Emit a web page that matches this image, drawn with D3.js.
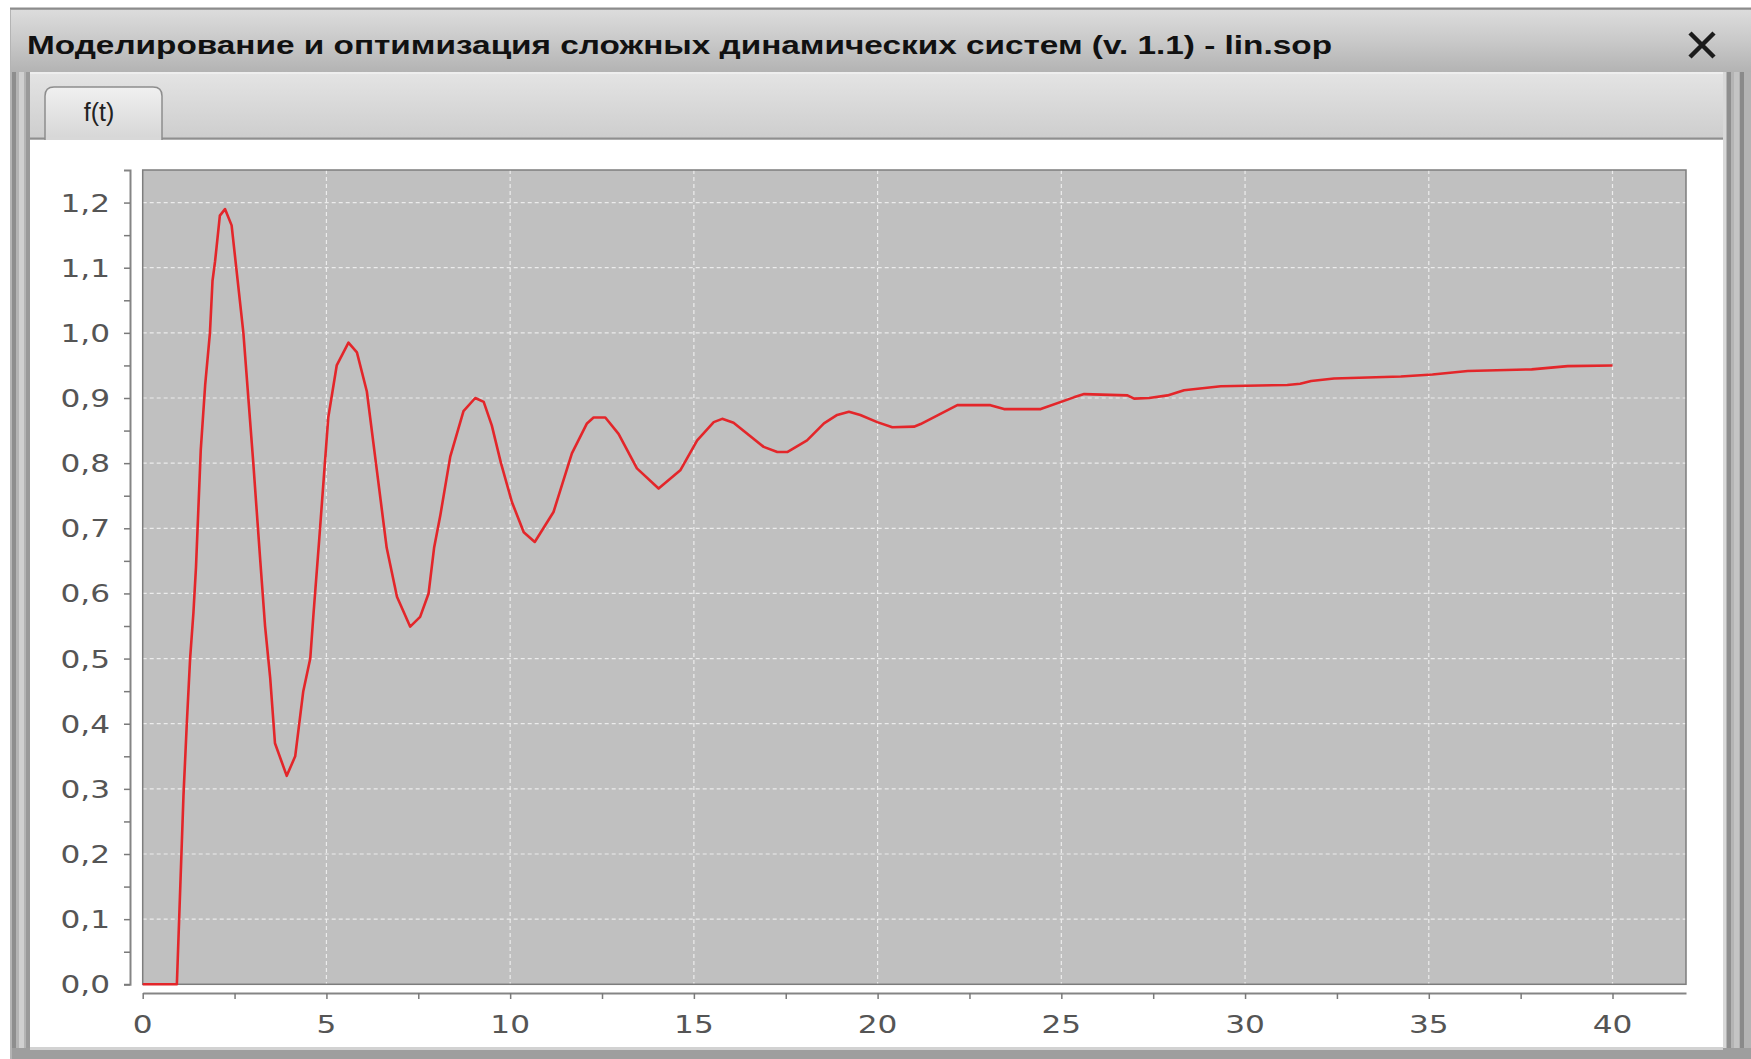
<!DOCTYPE html>
<html>
<head>
<meta charset="utf-8">
<script src="https://cdn.jsdelivr.net/npm/d3@7"></script>
<style>
  html, body { margin: 0; padding: 0; background: #ffffff; }
  svg { display: block; }
</style>
</head>
<body>
<svg id="win" width="1751" height="1059"></svg>
<script>
// Window caption and tab label
const windowTitle = "Моделирование и оптимизация сложных динамических систем (v. 1.1) - lin.sop";
const tabLabel = "f(t)";

// Simulated response f(t): time samples and values
const tValues = [0, 0.93, 1.11, 1.20, 1.29, 1.38, 1.45, 1.58, 1.70, 1.83, 1.90, 1.97, 2.10, 2.24, 2.42,
  2.74, 3.01, 3.20, 3.33, 3.47, 3.60, 3.92, 4.15, 4.37, 4.56, 4.65, 4.80, 5.05, 5.28, 5.60, 5.83,
  6.10, 6.37, 6.64, 6.92, 7.28, 7.55, 7.78, 7.93, 8.10, 8.37, 8.73, 9.05, 9.28, 9.50, 9.75, 10.05,
  10.37, 10.67, 11.18, 11.68, 12.09, 12.27, 12.59, 12.95, 13.45, 14.04, 14.63, 15.09, 15.54, 15.77,
  16.08, 16.90, 17.27, 17.54, 18.08, 18.54, 18.90, 19.22, 19.53, 19.99, 20.40, 20.99, 21.17, 22.17,
  23.07, 23.44, 24.44, 25.34, 25.62, 26.80, 26.98, 27.39, 27.89, 28.34, 29.34, 31.15, 31.50, 31.80,
  32.42, 34.24, 35.10, 36.06, 37.80, 38.78, 40.00];
const fValues = [0, 0, 0.29, 0.40, 0.50, 0.57, 0.64, 0.82, 0.92, 1.00, 1.08, 1.11, 1.18, 1.19, 1.165,
  1.00, 0.80, 0.65, 0.55, 0.47, 0.37, 0.32, 0.35, 0.45, 0.50, 0.57, 0.68, 0.87, 0.95, 0.985, 0.97,
  0.91, 0.79, 0.67, 0.595, 0.549, 0.564, 0.60, 0.67, 0.72, 0.81, 0.88, 0.90, 0.894, 0.858, 0.80, 0.74,
  0.694, 0.679, 0.725, 0.815, 0.861, 0.870, 0.870, 0.845, 0.792, 0.761, 0.789, 0.835, 0.863, 0.868,
  0.862, 0.825, 0.817, 0.817, 0.835, 0.861, 0.874, 0.879, 0.874, 0.863, 0.855, 0.856, 0.860, 0.889,
  0.889, 0.883, 0.883, 0.901, 0.906, 0.904, 0.899, 0.900, 0.904, 0.912, 0.918, 0.920, 0.922, 0.926,
  0.930, 0.933, 0.936, 0.9415, 0.944, 0.949, 0.950];

// Axis ticks
const xTickValues = d3.range(0, 40.01, 2.5);
const xLabelValues = [0, 5, 10, 15, 20, 25, 30, 35, 40];
const yTickValues = d3.range(0, 1.2001, 0.05).map(v => +v.toFixed(2));
const yLabelValues = [0, 0.1, 0.2, 0.3, 0.4, 0.5, 0.6, 0.7, 0.8, 0.9, 1.0, 1.1, 1.2];

const svg = d3.select("#win");
const defs = svg.append("defs");

function vGrad(id, stops) {
  const g = defs.append("linearGradient").attr("id", id)
    .attr("x1", 0).attr("y1", 0).attr("x2", 0).attr("y2", 1);
  stops.forEach(([o, c]) => g.append("stop").attr("offset", o).attr("stop-color", c));
}
vGrad("titleGrad", [[0, "#dcdcdc"], [0.5, "#c9c9c9"], [1, "#b3b3b3"]]);
vGrad("stripGrad", [[0, "#e4e4e4"], [1, "#cdcdcd"]]);
vGrad("tabGrad", [[0, "#f0f0f0"], [1, "#d6d6d6"]]);

// ---- window frame ----
svg.append("rect").attr("x", 10).attr("y", 8).attr("width", 1741).attr("height", 1051)
  .attr("fill", "#b4b4b4");
svg.append("line").attr("x1", 10).attr("x2", 1751).attr("y1", 8.5).attr("y2", 8.5)
  .attr("stroke", "#8c8c8c").attr("stroke-width", 2);
svg.append("rect").attr("x", 11).attr("y", 10).attr("width", 1740).attr("height", 62)
  .attr("fill", "url(#titleGrad)");

// side border lines
[[12, "#8e8e8e", 4], [19, "#d0d0d0", 5], [26, "#9a9a9a", 4]].forEach(([x, c, w]) => {
  svg.append("rect").attr("x", x).attr("y", 72).attr("width", w).attr("height", 987).attr("fill", c);
});
[[1723, "#d8d8d8", 3], [1727, "#8e8e8e", 4], [1734, "#c4c4c4", 5], [1740, "#8a8a8a", 4]].forEach(([x, c, w]) => {
  svg.append("rect").attr("x", x).attr("y", 72).attr("width", w).attr("height", 987).attr("fill", c);
});
svg.append("rect").attr("x", 12).attr("y", 1048).attr("width", 1739).attr("height", 11).attr("fill", "#9e9e9e");
svg.append("rect").attr("x", 30).attr("y", 1047).attr("width", 1693).attr("height", 3).attr("fill", "#d2d2d2");

// title text
svg.append("text").attr("x", 27).attr("y", 54)
  .attr("font-family", "'Liberation Sans', Arial, sans-serif")
  .attr("font-weight", "bold").attr("font-size", 26)
  .attr("fill", "#111")
  .attr("textLength", 1305).attr("lengthAdjust", "spacingAndGlyphs")
  .text(windowTitle);

// close cross
const cx = 1702, cy = 45, cr = 12;
svg.append("path")
  .attr("d", `M${cx - cr},${cy - cr}L${cx + cr},${cy + cr}M${cx + cr},${cy - cr}L${cx - cr},${cy + cr}`)
  .attr("stroke", "#1c1c1c").attr("stroke-width", 4.5).attr("fill", "none");

// ---- tab strip ----
svg.append("rect").attr("x", 30).attr("y", 72).attr("width", 1693).attr("height", 68)
  .attr("fill", "url(#stripGrad)");
svg.append("line").attr("x1", 30).attr("x2", 1723).attr("y1", 73).attr("y2", 73)
  .attr("stroke", "#eeeeee").attr("stroke-width", 2);
svg.append("line").attr("x1", 30).attr("x2", 1723).attr("y1", 138.5).attr("y2", 138.5)
  .attr("stroke", "#8f8f8f").attr("stroke-width", 2);

const tx0 = 45, tx1 = 162, ty0 = 87, ty1 = 140, rr = 9;
svg.append("path")
  .attr("d", `M${tx0},${ty1}L${tx0},${ty0 + rr}Q${tx0},${ty0} ${tx0 + rr},${ty0}L${tx1 - rr},${ty0}Q${tx1},${ty0} ${tx1},${ty0 + rr}L${tx1},${ty1}`)
  .attr("fill", "url(#tabGrad)").attr("stroke", "#8d8d8d").attr("stroke-width", 1.5);
svg.append("rect").attr("x", tx0 + 1).attr("y", 137).attr("width", tx1 - tx0 - 2).attr("height", 3)
  .attr("fill", "#d8d8d8");
svg.append("text").attr("x", 99).attr("y", 121).attr("text-anchor", "middle")
  .attr("font-family", "'Liberation Sans', Arial, sans-serif").attr("font-size", 25)
  .attr("fill", "#222").text(tabLabel);

// ---- content panel ----
svg.append("rect").attr("x", 30).attr("y", 140).attr("width", 1693).attr("height", 907)
  .attr("fill", "#ffffff");

// ---- chart ----
const plotLeft = 142.7, plotRight = 1686, plotTop = 170, plotBottom = 984.3;
const x = d3.scaleLinear().domain([0, 42]).range([plotLeft, plotRight]);
const y = d3.scaleLinear().domain([0, 1.25]).range([plotBottom, plotTop]);

svg.append("rect").attr("x", plotLeft).attr("y", plotTop)
  .attr("width", plotRight - plotLeft).attr("height", plotBottom - plotTop)
  .attr("fill", "#c0c0c0");

const grid = svg.append("g").attr("stroke", "#ececec").attr("stroke-width", 1.2)
  .attr("stroke-dasharray", "4,3");
grid.selectAll("line.gx").data(xLabelValues.filter(v => v > 0)).join("line")
  .attr("x1", d => x(d)).attr("x2", d => x(d)).attr("y1", plotTop).attr("y2", plotBottom);
grid.selectAll("line.gy").data(yLabelValues.filter(v => v > 0)).join("line")
  .attr("x1", plotLeft).attr("x2", plotRight).attr("y1", d => y(d)).attr("y2", d => y(d));

svg.append("rect").attr("x", plotLeft).attr("y", plotTop)
  .attr("width", plotRight - plotLeft).attr("height", plotBottom - plotTop)
  .attr("fill", "none").attr("stroke", "#7d7d7d").attr("stroke-width", 1.5);

// response curve
const pts = tValues.map((t, i) => [t, fValues[i]]);
svg.append("path").datum(pts)
  .attr("d", d3.line().x(d => x(d[0])).y(d => y(d[1])))
  .attr("fill", "none").attr("stroke", "#e3262a").attr("stroke-width", 2.6)
  .attr("stroke-linejoin", "round");

const fmt = v => d3.format(".1f")(v).replace(".", ",");
const isLabel = (arr, v) => arr.some(a => Math.abs(a - v) < 1e-6);

// y axis
const yAxis = svg.append("g").attr("transform", "translate(130,0)")
  .call(d3.axisLeft(y).tickValues(yTickValues).tickSize(6).tickSizeOuter(6).tickFormat(""));
// x axis
const xAxis = svg.append("g").attr("transform", "translate(0,993)")
  .call(d3.axisBottom(x).tickValues(xTickValues).tickSize(6).tickSizeOuter(0).tickFormat(""));

[yAxis, xAxis].forEach(a => {
  a.select(".domain").attr("stroke", "#858585").attr("stroke-width", 2);
  a.selectAll(".tick line").attr("stroke", "#7a7a7a").attr("stroke-width", 1.5);
});

const labelFont = "'DejaVu Sans', Verdana, sans-serif";
svg.append("g").selectAll("text").data(yLabelValues).join("text")
  .attr("transform", d => `translate(110,${y(d) + 9}) scale(1.3,1)`)
  .attr("text-anchor", "end")
  .attr("font-family", labelFont).attr("font-size", 24).attr("fill", "#555")
  .text(d => fmt(d));

svg.append("g").selectAll("text").data(xLabelValues).join("text")
  .attr("transform", d => `translate(${x(d)},1033) scale(1.3,1)`)
  .attr("text-anchor", "middle")
  .attr("font-family", labelFont).attr("font-size", 24).attr("fill", "#555")
  .text(d => String(d));
</script>
</body>
</html>
